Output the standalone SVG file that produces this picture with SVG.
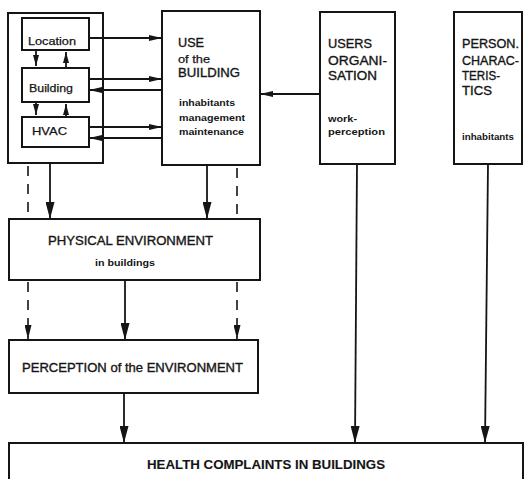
<svg xmlns="http://www.w3.org/2000/svg" width="526" height="479" viewBox="0 0 526 479">
  <style>
    .box { fill: none; stroke: #151515; stroke-width: 2; }
    .ln { fill: none; stroke: #151515; stroke-width: 1.8; }
    .dash { fill: none; stroke: #151515; stroke-width: 1.6; stroke-dasharray: 10 8; }
    .t { font-family: "Liberation Sans", Arial, sans-serif; fill: #151515; }
    .cap { font-size: 12.5px; stroke: #151515; stroke-width: 0.35; }
    .sub { font-size: 11px; stroke: #151515; stroke-width: 0.25; }
    .sm { font-size: 8.5px; font-weight: bold; }
    .bd { font-weight: bold; stroke-width: 0.1; }
  </style>
  <defs>
    <marker id="ahBig" viewBox="0 0 17 9" refX="17" refY="4.5" markerWidth="17" markerHeight="9" orient="auto" markerUnits="userSpaceOnUse">
      <path d="M0,0 L17,4.5 L0,9 Z" fill="#151515"/>
    </marker>
    <marker id="ahDash" viewBox="0 0 14 7" refX="14" refY="3.5" markerWidth="14" markerHeight="7" orient="auto" markerUnits="userSpaceOnUse">
      <path d="M0,0 L14,3.5 L0,7 Z" fill="#151515"/>
    </marker>
    <marker id="ahMid" viewBox="0 0 13 6" refX="13" refY="3" markerWidth="13" markerHeight="6" orient="auto" markerUnits="userSpaceOnUse">
      <path d="M0,0 L13,3 L0,6 Z" fill="#151515"/>
    </marker>
    <marker id="ahSmall" viewBox="0 0 11 6" refX="11" refY="3" markerWidth="11" markerHeight="6" orient="auto" markerUnits="userSpaceOnUse">
      <path d="M0,0 L11,3 L0,6 Z" fill="#151515"/>
    </marker>
  </defs>

  <rect x="0" y="0" width="526" height="479" fill="#ffffff"/>

  <!-- building group: location, building, HVAC -->
  <g id="building-group">
    <rect class="box" x="8" y="13" width="95" height="150"/>
  </g>
  <g id="location">
    <rect class="box" x="22" y="18" width="67" height="32"/>
    <text class="t sub" x="28" y="45" textLength="48" lengthAdjust="spacingAndGlyphs">Location</text>
  </g>
  <g id="building">
    <rect class="box" x="22" y="68" width="67" height="34"/>
    <text class="t sub" x="29" y="92" textLength="44" lengthAdjust="spacingAndGlyphs">Building</text>
  </g>
  <g id="hvac">
    <rect class="box" x="22" y="117" width="67" height="30"/>
    <text class="t sub" x="32" y="135" textLength="35" lengthAdjust="spacingAndGlyphs">HVAC</text>
  </g>

  <g id="use-of-building">
    <rect class="box" x="162" y="11" width="98" height="154"/>
    <text class="t cap" x="178" y="47" textLength="26" lengthAdjust="spacingAndGlyphs">USE</text>
    <text class="t sub" x="178" y="63" textLength="32" lengthAdjust="spacingAndGlyphs">of the</text>
    <text class="t cap" x="178" y="77" textLength="62" lengthAdjust="spacingAndGlyphs">BUILDING</text>
    <text class="t sm" x="179" y="106" textLength="56" lengthAdjust="spacingAndGlyphs">inhabitants</text>
    <text class="t sm" x="179" y="121" textLength="66" lengthAdjust="spacingAndGlyphs">management</text>
    <text class="t sm" x="179" y="135" textLength="65" lengthAdjust="spacingAndGlyphs">maintenance</text>
  </g>

  <g id="users-organisation">
    <rect class="box" x="320" y="12" width="75" height="152"/>
    <text class="t cap" x="328" y="48" textLength="44" lengthAdjust="spacingAndGlyphs">USERS</text>
    <text class="t cap" x="328" y="65" textLength="59" lengthAdjust="spacingAndGlyphs">ORGANI-</text>
    <text class="t cap" x="328" y="80" textLength="49" lengthAdjust="spacingAndGlyphs">SATION</text>
    <text class="t sm" x="328" y="122" textLength="29" lengthAdjust="spacingAndGlyphs">work-</text>
    <text class="t sm" x="328" y="135" textLength="57" lengthAdjust="spacingAndGlyphs">perception</text>
  </g>

  <g id="person-characteristics">
    <rect class="box" x="454" y="12" width="68" height="152"/>
    <text class="t cap" x="462" y="48" textLength="57" lengthAdjust="spacingAndGlyphs">PERSON.</text>
    <text class="t cap" x="462" y="65" textLength="57" lengthAdjust="spacingAndGlyphs">CHARAC-</text>
    <text class="t cap" x="462" y="80" textLength="38" lengthAdjust="spacingAndGlyphs">TERIS-</text>
    <text class="t cap" x="462" y="95" textLength="30" lengthAdjust="spacingAndGlyphs">TICS</text>
    <text class="t sm" x="462" y="140" textLength="52" lengthAdjust="spacingAndGlyphs">inhabitants</text>
  </g>

  <g id="physical-environment">
    <rect class="box" x="9" y="219" width="251" height="61"/>
    <text class="t cap" x="48" y="245" textLength="165" lengthAdjust="spacingAndGlyphs">PHYSICAL ENVIRONMENT</text>
    <text class="t sm" x="95" y="266" textLength="60" lengthAdjust="spacingAndGlyphs">in buildings</text>
  </g>

  <g id="perception">
    <rect class="box" x="9" y="340" width="249" height="53"/>
    <text class="t cap" x="22" y="372" textLength="221" lengthAdjust="spacingAndGlyphs">PERCEPTION of the ENVIRONMENT</text>
  </g>

  <g id="health-complaints">
    <rect class="box" x="9" y="443" width="514" height="45"/>
    <text class="t cap bd" x="147" y="469" textLength="238" lengthAdjust="spacingAndGlyphs">HEALTH COMPLAINTS IN BUILDINGS</text>
  </g>

  <g id="connectors">
    <!-- between sub-boxes of the building group -->
    <line class="ln" x1="36" y1="50" x2="36" y2="66" marker-end="url(#ahSmall)"/>
    <line class="ln" x1="66" y1="68" x2="66" y2="52" marker-end="url(#ahSmall)"/>
    <line class="ln" x1="36" y1="102" x2="36" y2="115" marker-end="url(#ahSmall)"/>
    <line class="ln" x1="66" y1="117" x2="66" y2="104" marker-end="url(#ahSmall)"/>

    <!-- building group to / from use of the building -->
    <line class="ln" x1="89" y1="38" x2="162" y2="38" marker-end="url(#ahMid)"/>
    <line class="ln" x1="89" y1="79" x2="162" y2="79" marker-end="url(#ahMid)"/>
    <line class="ln" x1="162" y1="90" x2="89" y2="90" marker-end="url(#ahMid)"/>
    <line class="ln" x1="89" y1="127" x2="162" y2="127" marker-end="url(#ahMid)"/>
    <line class="ln" x1="162" y1="138" x2="89" y2="138" marker-end="url(#ahMid)"/>

    <!-- users organisation to use of the building -->
    <line class="ln" x1="320" y1="94" x2="260" y2="94" marker-end="url(#ahMid)"/>

    <!-- into physical environment -->
    <line class="ln" x1="50" y1="163" x2="50" y2="219" marker-end="url(#ahBig)"/>
    <line class="ln" x1="207" y1="165" x2="207" y2="219" marker-end="url(#ahBig)"/>
    <line class="dash" x1="28" y1="166" x2="28" y2="219"/>
    <line class="dash" x1="237" y1="168" x2="237" y2="219"/>

    <!-- into perception -->
    <line class="ln" x1="125" y1="280" x2="125" y2="340" marker-end="url(#ahBig)"/>
    <line class="dash" x1="28" y1="282" x2="28" y2="339" marker-end="url(#ahDash)"/>
    <line class="dash" x1="237" y1="282" x2="237" y2="339" marker-end="url(#ahDash)"/>

    <!-- into health complaints -->
    <line class="ln" x1="124" y1="393" x2="124" y2="443" marker-end="url(#ahBig)"/>
    <line class="ln" x1="357" y1="164" x2="355" y2="443" marker-end="url(#ahBig)"/>
    <line class="ln" x1="488" y1="164" x2="485" y2="443" marker-end="url(#ahBig)"/>
  </g>
</svg>
